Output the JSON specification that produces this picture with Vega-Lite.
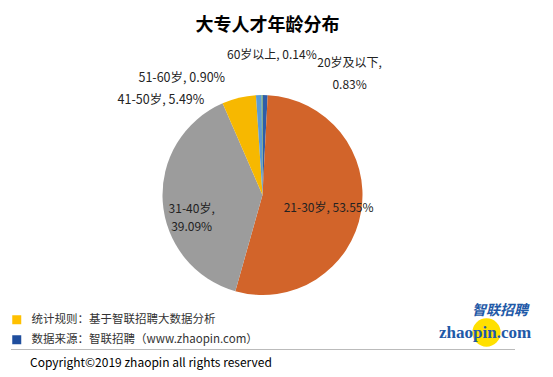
{
  "$schema": "https://vega.github.io/schema/vega-lite/v6.json",
  "width": 503,
  "height": 308,
  "autosize": {"type": "none"},
  "padding": {"left": 11, "top": 41, "right": 39, "bottom": 28},
  "background": "white",
  "config": {
    "view": {"stroke": null},
    "font": "Noto Sans CJK SC"
  },
  "title": {
    "text": "大专人才年龄分布",
    "font": "Noto Sans CJK SC",
    "fontSize": 18,
    "fontWeight": "bold",
    "color": "#000000",
    "offset": 6,
    "dx": 5
  },
  "data": {
    "values": [
      {"age": "20岁及以下", "pct": 0.83, "label": "20岁及以下,\n0.83%"},
      {"age": "21-30岁", "pct": 53.55, "label": "21-30岁, 53.55%"},
      {"age": "31-40岁", "pct": 39.09, "label": "31-40岁,\n39.09%"},
      {"age": "41-50岁", "pct": 5.49, "label": "41-50岁, 5.49%"},
      {"age": "51-60岁", "pct": 0.90, "label": "51-60岁, 0.90%"},
      {"age": "60岁以上", "pct": 0.14, "label": "60岁以上, 0.14%"}
    ]
  },
  "layer": [
    {
      "mark": {"type": "arc", "radius": 100},
      "encoding": {
        "theta": {"field": "pct", "type": "quantitative", "stack": true},
        "color": {
          "field": "age",
          "type": "nominal",
          "scale": {
            "domain": ["20岁及以下", "21-30岁", "31-40岁", "41-50岁", "51-60岁", "60岁以上"],
            "range": ["#2E5DA8", "#D2642A", "#9C9C9C", "#F7B800", "#5B9BD5", "#6FA84A"]
          },
          "legend": null
        }
      }
    },
    {
      "mark": {"type": "text", "radius": 66, "dx": 1, "dy": 2, "fontSize": 12, "font": "Noto Sans CJK SC", "fill": "#222222"},
      "encoding": {
        "theta": {"field": "pct", "type": "quantitative", "stack": true},
        "detail": {"field": "age", "type": "nominal"},
        "text": {"condition": {"test": "datum.age === '21-30岁'", "field": "label"}, "value": ""}
      }
    },
    {
      "mark": {"type": "text", "radius": 72, "dx": 1, "dy": 9, "fontSize": 12, "lineBreak": "\n", "lineHeight": 18, "font": "Noto Sans CJK SC", "fill": "#222222"},
      "encoding": {
        "theta": {"field": "pct", "type": "quantitative", "stack": true},
        "detail": {"field": "age", "type": "nominal"},
        "text": {"condition": {"test": "datum.age === '31-40岁'", "field": "label"}, "value": ""}
      }
    },
    {
      "mark": {"type": "text", "radius": 100, "dx": -78, "dy": 2, "fontSize": 12.5, "font": "Noto Sans CJK SC", "fill": "#222222"},
      "encoding": {
        "theta": {"field": "pct", "type": "quantitative", "stack": true},
        "detail": {"field": "age", "type": "nominal"},
        "text": {"condition": {"test": "datum.age === '41-50岁'", "field": "label"}, "value": ""}
      }
    },
    {
      "mark": {"type": "text", "radius": 100, "dx": -77, "dy": -17, "fontSize": 12.5, "font": "Noto Sans CJK SC", "fill": "#222222"},
      "encoding": {
        "theta": {"field": "pct", "type": "quantitative", "stack": true},
        "detail": {"field": "age", "type": "nominal"},
        "text": {"condition": {"test": "datum.age === '51-60岁'", "field": "label"}, "value": ""}
      }
    },
    {
      "mark": {"type": "text", "radius": 140, "dx": 10, "dy": 0, "fontSize": 12, "font": "Noto Sans CJK SC", "fill": "#222222"},
      "encoding": {
        "theta": {"field": "pct", "type": "quantitative", "stack": true},
        "detail": {"field": "age", "type": "nominal"},
        "text": {"condition": {"test": "datum.age === '60岁以上'", "field": "label"}, "value": ""}
      }
    },
    {
      "mark": {"type": "text", "radius": 120, "dx": 84, "dy": -12, "fontSize": 12, "lineBreak": "\n", "lineHeight": 22, "font": "Noto Sans CJK SC", "fill": "#222222"},
      "encoding": {
        "theta": {"field": "pct", "type": "quantitative", "stack": true},
        "detail": {"field": "age", "type": "nominal"},
        "text": {"condition": {"test": "datum.age === '20岁及以下'", "field": "label"}, "value": ""}
      }
    },
    {
      "data": {
        "values": [
          {"note": "统计规则：基于智联招聘大数据分析"},
          {"note": "数据来源：智联招聘（www.zhaopin.com）"}
        ]
      },
      "mark": {"type": "point", "opacity": 0, "filled": true},
      "encoding": {
        "x": {
          "field": "note",
          "type": "nominal",
          "axis": {"labels": false, "ticks": false, "title": null, "grid": false, "domainDash": [1, 1], "domainColor": "#777777", "domainWidth": 1}
        },
        "color": {
          "field": "note",
          "type": "nominal",
          "scale": {
            "domain": ["统计规则：基于智联招聘大数据分析", "数据来源：智联招聘（www.zhaopin.com）"],
            "range": ["#FFC000", "#1F4E9E"]
          },
          "legend": {
            "orient": "none",
            "legendX": 0,
            "legendY": 273,
            "title": "Copyright©2019 zhaopin all rights reserved",
            "titleOrient": "bottom",
            "titleFont": "Noto Sans CJK SC",
            "titleFontSize": 12,
            "titleFontWeight": "normal",
            "titleColor": "#000000",
            "titlePadding": 13,
            "titleLimit": 500,
            "symbolType": "square",
            "symbolSize": 81,
            "symbolStrokeWidth": 0,
            "labelFont": "Noto Sans CJK SC",
            "labelFontSize": 11.5,
            "labelColor": "#333333",
            "labelOffset": 9,
            "labelLimit": 400,
            "rowPadding": 7,
            "padding": 0,
            "encode": {"title": {"update": {"dx": {"value": 19}}}}
          }
        }
      }
    },
    {
      "data": {"values": [{"brand": "zhaopin.com"}]},
      "mark": {"type": "point", "opacity": 0, "filled": true, "color": "#FFE000"},
      "encoding": {
        "shape": {
          "field": "brand",
          "type": "nominal",
          "scale": {"range": ["circle"]},
          "legend": {
            "orient": "none",
            "legendX": 461,
            "legendY": 263,
            "title": "智联招聘",
            "titleFont": "Noto Sans CJK SC",
            "titleFontSize": 14,
            "titleFontWeight": "bold",
            "titleFontStyle": "italic",
            "titleColor": "#1F5AA8",
            "titlePadding": 0,
            "symbolSize": 800,
            "symbolFillColor": "#FFE000",
            "symbolStrokeWidth": 0,
            "labelFont": "Verdana",
            "labelFontSize": 17,
            "labelFontWeight": "bold",
            "labelColor": "#1F5AA8",
            "labelOffset": -62,
            "padding": 0,
            "encode": {"title": {"update": {"dx": {"value": 16}}}}
          }
        }
      }
    }
  ],
  "resolve": {"scale": {"color": "independent"}}
}
